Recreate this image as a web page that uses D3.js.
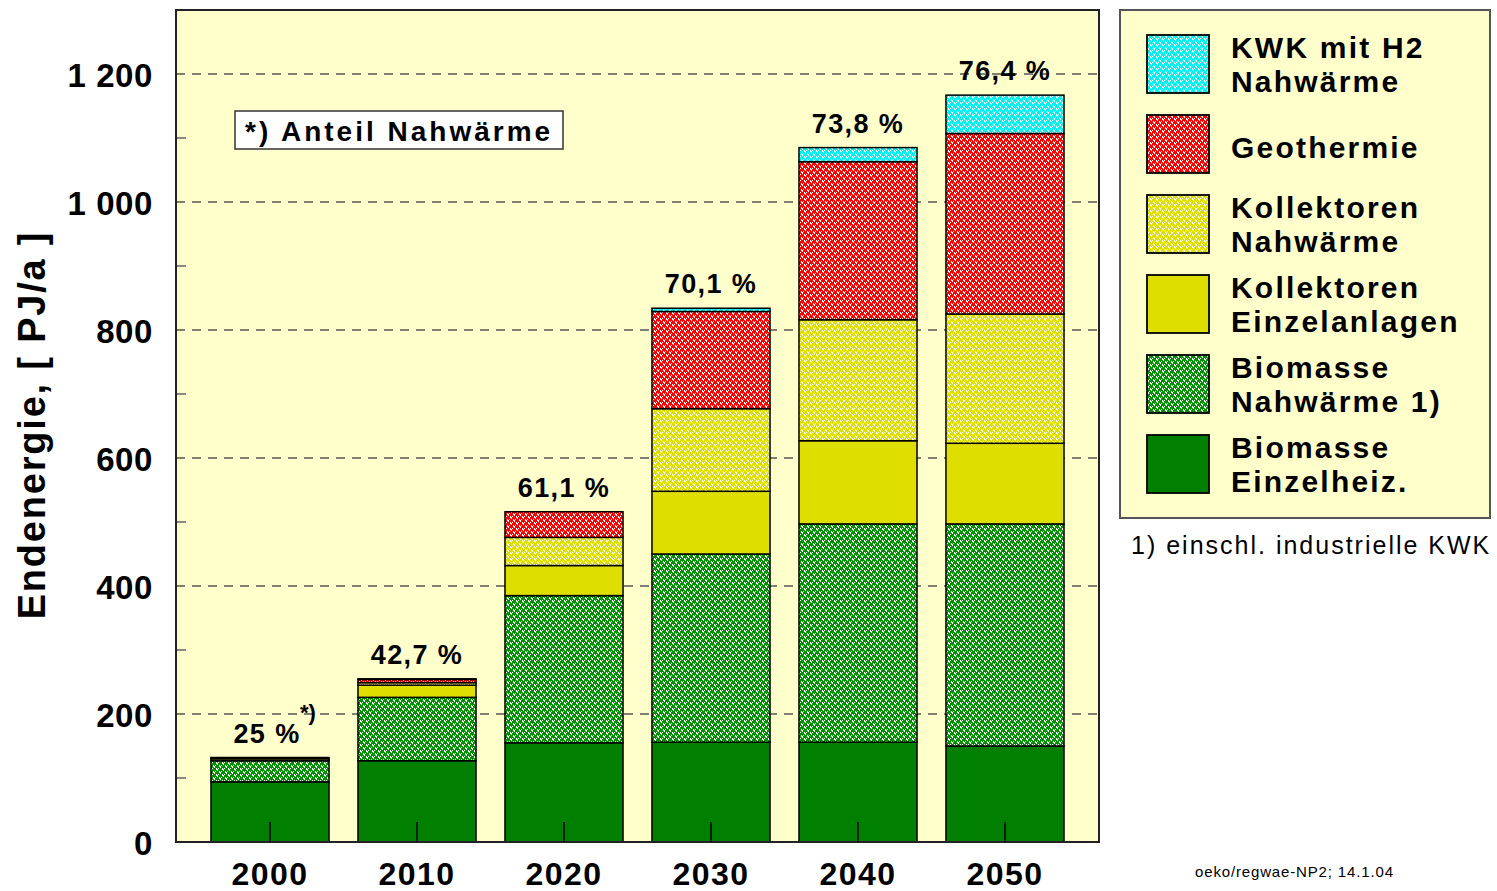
<!DOCTYPE html>
<html>
<head>
<meta charset="utf-8">
<script src="https://cdn.jsdelivr.net/npm/d3@7"></script>
<style>
  body { margin: 0; background: #fff; }
  text { font-family: "Liberation Sans", Arial, sans-serif; }
</style>
</head>
<body>
<svg id="chart"></svg>
<script>
// data (PJ/a)
const years = ["2000", "2010", "2020", "2030", "2040", "2050"];
const bioEinzel  = [94, 127, 155, 156, 156, 150];
const bioNah     = [33, 99, 230, 294, 341, 347];
const kollEinzel = [3, 19, 47, 98, 130, 126];
const kollNah    = [1, 4, 44, 129, 189, 202];
const geo        = [1, 5, 40, 152, 247, 282];
const kwk        = [0, 1, 0, 5, 22, 60];
const pctLabels  = ["25 %", "42,7 %", "61,1 %", "70,1 %", "73,8 %", "76,4 %"];
const yTicks = [0, 200, 400, 600, 800, 1000, 1200];
const minorTicks = [100, 300, 500, 700, 900, 1100];

const keys = ["bioEinzel", "bioNah", "kollEinzel", "kollNah", "geo", "kwk"];
const legendLabels = {
  kwk: ["KWK mit H2", "Nahwärme"],
  geo: ["Geothermie"],
  kollNah: ["Kollektoren", "Nahwärme"],
  kollEinzel: ["Kollektoren", "Einzelanlagen"],
  bioNah: ["Biomasse", "Nahwärme 1)"],
  bioEinzel: ["Biomasse", "Einzelheiz."]
};
const fills = {
  bioEinzel: {color: "#007f00", hatch: false},
  bioNah: {color: "#009000", hatch: true},
  kollEinzel: {color: "#dede00", hatch: false},
  kollNah: {color: "#dede00", hatch: true},
  geo: {color: "#ff0000", hatch: true},
  kwk: {color: "#00f0f0", hatch: true}
};

const table = years.map((y, i) => ({
  year: y, bioEinzel: bioEinzel[i], bioNah: bioNah[i], kollEinzel: kollEinzel[i],
  kollNah: kollNah[i], geo: geo[i], kwk: kwk[i]
}));

const W = 1497, H = 891;
const mLeft = 176, mRight = 1099, mTop = 10, mBottom = 842;

const svg = d3.select("#chart").attr("width", W).attr("height", H);
const defs = svg.append("defs");

// small white-dotted patterns
const whites = [[0,0],[0,1],[1,1],[1,2],[3,3],[3,4],[4,4],[4,5],[2,0],[5,3]];
keys.filter(k => fills[k].hatch).forEach(k => {
  const p = defs.append("pattern").attr("id", "pat-" + k)
    .attr("patternUnits", "userSpaceOnUse").attr("width", 6).attr("height", 6);
  p.append("rect").attr("width", 6).attr("height", 6).attr("fill", fills[k].color);
  p.selectAll("rect.w").data(whites).enter().append("rect").attr("class", "w")
    .attr("x", d => d[0]).attr("y", d => d[1]).attr("width", 1).attr("height", 1)
    .attr("fill", "#fff").attr("shape-rendering", "crispEdges");
});
const fillOf = k => fills[k].hatch ? `url(#pat-${k})` : fills[k].color;

const x = d3.scaleBand().domain(years).range([mLeft, mRight]).paddingInner(0.197).paddingOuter(0.238);
const y = d3.scaleLinear().domain([0, 1300]).range([mBottom, mTop]);

// plot background
svg.append("rect").attr("x", mLeft).attr("y", mTop).attr("width", mRight - mLeft).attr("height", mBottom - mTop)
  .attr("fill", "#ffffcc");

// grid lines
svg.append("g").selectAll("line").data(yTicks.filter(d => d > 0)).enter().append("line")
  .attr("x1", mLeft).attr("x2", mRight).attr("y1", d => y(d)).attr("y2", d => y(d))
  .attr("stroke", "#555").attr("stroke-width", 1.5).attr("stroke-dasharray", "9,7");

// minor ticks inside the left axis
svg.append("g").selectAll("line").data(minorTicks).enter().append("line")
  .attr("x1", mLeft).attr("x2", mLeft + 10).attr("y1", d => y(d)).attr("y2", d => y(d))
  .attr("stroke", "#666").attr("stroke-width", 1.5);

// stacked bars
const series = d3.stack().keys(keys)(table);
svg.append("g").selectAll("g").data(series).enter().append("g")
  .attr("fill", d => fillOf(d.key))
  .selectAll("rect").data(d => d.filter(s => s[1] - s[0] > 0)).enter().append("rect")
  .attr("x", d => x(d.data.year))
  .attr("y", d => y(d[1]))
  .attr("width", x.bandwidth())
  .attr("height", d => y(d[0]) - y(d[1]))
  .attr("stroke", "#000").attr("stroke-width", 1.5);

// plot frame
svg.append("rect").attr("x", mLeft).attr("y", mTop).attr("width", mRight - mLeft).attr("height", mBottom - mTop)
  .attr("fill", "none").attr("stroke", "#222").attr("stroke-width", 2);

// x axis: ticks pointing up into the bars
const xAxis = svg.append("g").attr("transform", `translate(0,${mBottom})`)
  .call(d3.axisBottom(x).tickSize(-20).tickPadding(20));
xAxis.select(".domain").remove();
xAxis.selectAll(".tick line").attr("stroke", "#000").attr("stroke-width", 1.5);
xAxis.selectAll("text").attr("font-size", 32).attr("font-weight", "bold")
  .attr("letter-spacing", 1.5).attr("fill", "#000").style("font-family", "'Liberation Sans', Arial, sans-serif");

// y axis
const fmt = d3.formatLocale({decimal: ",", thousands: " ", grouping: [3], currency: ["", ""]}).format(",");
const yAxis = svg.append("g").attr("transform", `translate(${mLeft},0)`)
  .call(d3.axisLeft(y).tickValues(yTicks).tickFormat(fmt).tickSize(0).tickPadding(23));
yAxis.select(".domain").remove();
yAxis.selectAll("text").attr("font-size", 33).attr("font-weight", "bold").attr("dy", "0.37em")
  .attr("letter-spacing", 0.6).attr("fill", "#000").style("font-family", "'Liberation Sans', Arial, sans-serif");

svg.append("text").attr("transform", "translate(45,425) rotate(-90)")
  .attr("text-anchor", "middle").attr("font-size", 38).attr("font-weight", "bold")
  .attr("letter-spacing", 1.8).text("Endenergie, [ PJ/a ]");

// share labels above bars
const totals = table.map(d => d3.sum(keys, k => d[k]));
svg.append("g").selectAll("text").data(years).enter().append("text")
  .attr("x", (d, i) => x(d) + x.bandwidth() / 2 - (i === 0 ? 3 : 0))
  .attr("y", (d, i) => y(totals[i]) - 15)
  .attr("text-anchor", "middle").attr("font-size", 27).attr("font-weight", "bold")
  .attr("letter-spacing", 1.4).text((d, i) => pctLabels[i]);
svg.append("text")
  .attr("x", x(years[0]) + x.bandwidth() / 2 + 30).attr("y", y(totals[0]) - 38)
  .attr("font-size", 22).attr("font-weight", "bold").text("*)");

// note box
const note = svg.append("g");
note.append("rect").attr("x", 235).attr("y", 111).attr("width", 328).attr("height", 38)
  .attr("fill", "#fff").attr("stroke", "#333").attr("stroke-width", 1.5);
note.append("text").attr("x", 245).attr("y", 141).attr("font-size", 28).attr("font-weight", "bold")
  .attr("letter-spacing", 3).text("*) Anteil Nahwärme");

// legend
const lg = svg.append("g");
lg.append("rect").attr("x", 1120).attr("y", 10).attr("width", 370).attr("height", 508)
  .attr("fill", "#ffffcc").attr("stroke", "#555").attr("stroke-width", 2);
const legendKeys = keys.slice().reverse();
const item = lg.selectAll("g.item").data(legendKeys).enter().append("g").attr("class", "item")
  .attr("transform", (d, i) => `translate(1147,${35 + i * 80})`);
item.append("rect").attr("width", 62).attr("height", 58)
  .attr("fill", d => fillOf(d)).attr("stroke", "#000").attr("stroke-width", 1.8);
item.each(function(k) {
  const lines = legendLabels[k];
  const t = d3.select(this).append("text").attr("font-size", 30).attr("font-weight", "bold")
    .attr("letter-spacing", 2.2);
  lines.forEach((l, j) => {
    t.append("tspan").attr("x", 84)
      .attr("y", lines.length === 1 ? 43 : 23 + j * 34).text(l);
  });
});

svg.append("text").attr("x", 1131).attr("y", 554).attr("font-size", 25)
  .attr("letter-spacing", 2).text("1) einschl. industrielle KWK");
svg.append("text").attr("x", 1195).attr("y", 877).attr("font-size", 15)
  .attr("letter-spacing", 0.85).text("oeko/regwae-NP2; 14.1.04");
</script>
</body>
</html>
